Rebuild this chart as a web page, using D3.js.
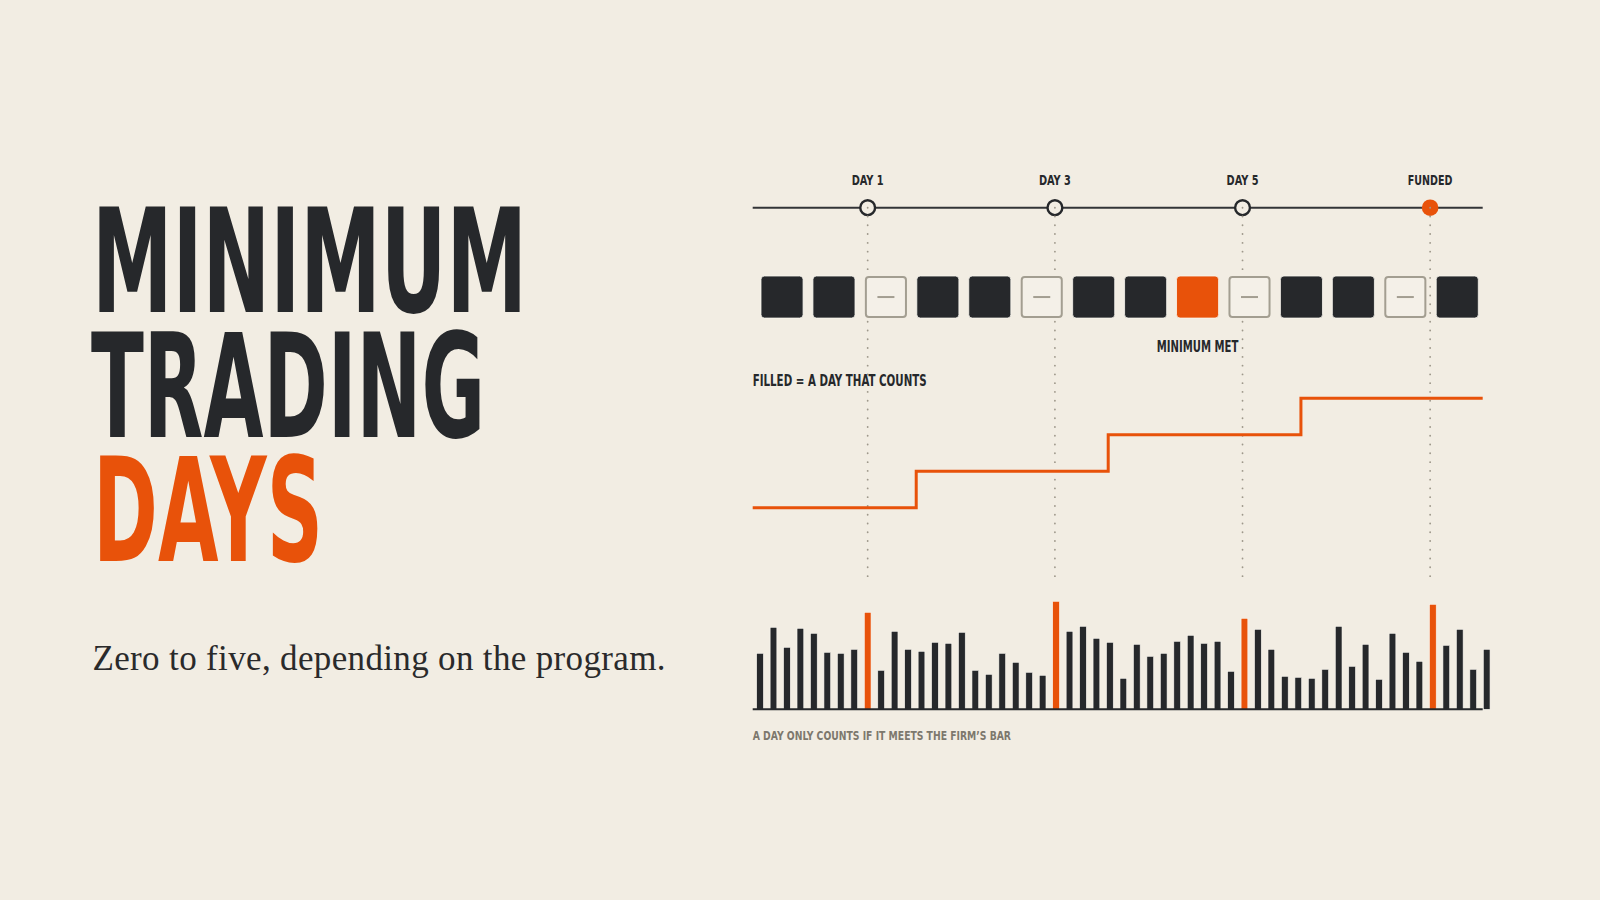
<!DOCTYPE html>
<html>
<head>
<meta charset="utf-8">
<title>Minimum Trading Days</title>
<script src="https://cdn.jsdelivr.net/npm/d3@7"></script>
<style>
	html, body { margin: 0; padding: 0; background: #f2ede3; }
	svg { display: block; }
	.cond { font-family: "DejaVu Sans Condensed", "DejaVu Sans", sans-serif; font-stretch: condensed; font-weight: bold; }
	.serif { font-family: "Liberation Serif", "DejaVu Serif", serif; }
</style>
</head>
<body>
<div id="chart"></div>
<script>
// headline
var titleLines = ["MINIMUM", "TRADING", "DAYS"];
var subtitle = "Zero to five, depending on the program.";

// milestones on the track, position in % of the track width
var markerLabels = ["DAY 1", "DAY 3", "DAY 5", "FUNDED"];
var markerPos = [15.75, 41.4, 67.1, 92.8];

// one square per session
var sessionState = ["filled", "filled", "empty", "filled", "filled", "empty", "filled",
	"filled", "met", "empty", "filled", "filled", "empty", "filled"];

// counted days, step line (breaks in % of track)
var stepBreaks = [0, 22.4, 48.7, 75.1, 100];
var stepLevels = [0, 1, 2, 3, 3];

// daily activity, and the days that met the firm's bar
var barValues = [56, 82, 62, 81, 76, 57, 56, 60, 97, 39,
	78, 60, 58, 67, 66, 77, 39, 35, 56, 47,
	37, 34, 108, 78, 83, 71, 67, 31, 65, 53,
	56, 68, 74, 66, 68, 38, 91, 80, 60, 33,
	32, 31, 40, 83, 43, 65, 30, 76, 57, 48,
	105, 64, 80, 40, 60];
var barHits = [8, 22, 36, 50];

var notes = {
	legend: "FILLED = A DAY THAT COUNTS",
	met: "MINIMUM MET",
	foot: "A DAY ONLY COUNTS IF IT MEETS THE FIRM\u2019S BAR"
};

var C = {
	bg: "#f2ede3",
	ink: "#26282b",
	orange: "#e8520a",
	muted: "#a39e91",
	dots: "#9e988b",
	foot: "#7d786d"
};

var Chart = {
	svg: null,

	init: function (selector, width, height) {
		this.svg = d3.select(selector).append("svg")
			.attr("width", width)
			.attr("height", height);

		this.svg.append("rect")
			.attr("width", width)
			.attr("height", height)
			.attr("fill", C.bg);

		this.drawTitle();
		this.drawTrack();
	},

	drawTitle: function () {
		var g = this.svg.append("g");
		// x, baseline, fitted width for each line
		var fit = [[92, 312.3, 435], [91, 436.7, 394], [93, 561, 230]];
		// set small and stretched up so the tight lines keep clear boxes
		var size = 104, stretch = 145 / 104;

		g.selectAll("text.title")
			.data(titleLines)
			.enter().append("text")
			.attr("class", "title cond")
			.attr("transform", function (d, i) {
				return "translate(" + fit[i][0] + "," + fit[i][1] + ") scale(1," + stretch + ")";
			})
			.attr("textLength", function (d, i) { return fit[i][2]; })
			.attr("lengthAdjust", "spacingAndGlyphs")
			.attr("font-size", size)
			.attr("fill", function (d, i) { return i == 2 ? C.orange : C.ink; })
			.text(function (d) { return d; });

		g.append("text")
			.attr("class", "serif")
			.attr("x", 92.5)
			.attr("y", 670)
			.attr("font-size", 35)
			.attr("textLength", 573)
			.attr("lengthAdjust", "spacing")
			.attr("fill", "#2a2a2b")
			.text(subtitle);
	},

	drawTrack: function () {
		var svg = this.svg;
		var x = d3.scaleLinear().domain([0, 100]).range([752.7, 1482.7]);
		var lineY = 207.7;

		// timeline
		svg.append("line")
			.attr("x1", x(0)).attr("x2", x(100))
			.attr("y1", lineY).attr("y2", lineY)
			.attr("stroke", "#333437")
			.attr("stroke-width", 2);

		svg.selectAll("circle.marker")
			.data(markerPos)
			.enter().append("circle")
			.attr("class", "marker")
			.attr("cx", function (d) { return x(d); })
			.attr("cy", lineY)
			.attr("r", function (d, i) { return i == 3 ? 8.3 : 7.4; })
			.attr("fill", function (d, i) { return i == 3 ? C.orange : C.bg; })
			.attr("stroke", function (d, i) { return i == 3 ? "none" : C.ink; })
			.attr("stroke-width", 2.4);

		svg.selectAll("text.marker")
			.data(markerLabels)
			.enter().append("text")
			.attr("class", "marker cond")
			.attr("x", function (d, i) { return x(markerPos[i]); })
			.attr("y", 185)
			.attr("text-anchor", "middle")
			.attr("font-size", 14.7)
			.attr("textLength", function (d) { return d == "FUNDED" ? 44.6 : 32; })
			.attr("lengthAdjust", "spacingAndGlyphs")
			.attr("fill", C.ink)
			.text(function (d) { return d; });

		// dotted guides
		svg.selectAll("line.guide")
			.data(markerPos)
			.enter().append("line")
			.attr("class", "guide")
			.attr("x1", function (d) { return x(d); })
			.attr("x2", function (d) { return x(d); })
			.attr("y1", lineY)
			.attr("y2", 581)
			.attr("stroke", C.dots)
			.attr("stroke-width", 1.8)
			.attr("stroke-linecap", "round")
			.attr("stroke-dasharray", "0.1 8.67");

		// step line of counted days
		var yStep = d3.scaleLinear().domain([0, 3]).range([507.7, 398.3]);
		var step = d3.line()
			.x(function (d, i) { return x(d); })
			.y(function (d, i) { return yStep(stepLevels[i]); })
			.curve(d3.curveStepAfter);

		svg.append("path")
			.attr("d", step(stepBreaks))
			.attr("fill", "none")
			.attr("stroke", C.orange)
			.attr("stroke-width", 3);

		// sessions
		var sq = d3.scaleBand()
			.domain(d3.range(sessionState.length))
			.range([761, 1478.3])
			.paddingInner(0.19);
		var sqY = 276, bw = sq.bandwidth();

		var cells = svg.selectAll("g.session")
			.data(sessionState)
			.enter().append("g")
			.attr("class", "session")
			.attr("transform", function (d, i) { return "translate(" + sq(i) + "," + sqY + ")"; });

		cells.filter(function (d) { return d != "empty"; })
			.append("rect")
			.attr("width", bw)
			.attr("height", bw)
			.attr("rx", 3.5)
			.attr("fill", function (d) { return d == "met" ? C.orange : C.ink; })
			.attr("stroke", "#faf7f0")
			.attr("stroke-width", 0.8);

		var empty = cells.filter(function (d) { return d == "empty"; });
		empty.append("rect")
			.attr("x", 1).attr("y", 1)
			.attr("width", bw - 2)
			.attr("height", bw - 2)
			.attr("rx", 3)
			.attr("fill", "#f4f0e8")
			.attr("stroke", C.muted)
			.attr("stroke-width", 2);
		empty.append("line")
			.attr("x1", bw / 2 - 8.5).attr("x2", bw / 2 + 8.5)
			.attr("y1", bw / 2).attr("y2", bw / 2)
			.attr("stroke", C.muted)
			.attr("stroke-width", 2);

		var metIndex = sessionState.indexOf("met");
		svg.append("text")
			.attr("class", "cond")
			.attr("x", sq(metIndex) + bw / 2)
			.attr("y", 352.3)
			.attr("text-anchor", "middle")
			.attr("font-size", 15.5)
			.attr("textLength", 81.6)
			.attr("lengthAdjust", "spacingAndGlyphs")
			.attr("fill", C.ink)
			.text(notes.met);

		svg.append("text")
			.attr("class", "cond")
			.attr("x", x(0))
			.attr("y", 385.7)
			.attr("font-size", 15.5)
			.attr("textLength", 174)
			.attr("lengthAdjust", "spacingAndGlyphs")
			.attr("fill", C.ink)
			.text(notes.legend);

		// activity bars
		var xb = d3.scaleBand()
			.domain(d3.range(barValues.length))
			.range([753.3, 1493.4])
			.paddingInner(0.5)
			.paddingOuter(0.25);
		var yb = d3.scaleLinear().domain([0, 110]).range([709.3, 599.3]);

		svg.selectAll("rect.bar")
			.data(barValues)
			.enter().append("rect")
			.attr("class", "bar")
			.attr("x", function (d, i) { return xb(i); })
			.attr("y", function (d) { return yb(d); })
			.attr("width", xb.bandwidth())
			.attr("height", function (d) { return yb(0) - yb(d); })
			.attr("fill", function (d, i) { return barHits.indexOf(i) >= 0 ? C.orange : C.ink; })
			.attr("stroke", "#faf7f0")
			.attr("stroke-width", 0.6);

		svg.append("line")
			.attr("x1", x(0)).attr("x2", x(100))
			.attr("y1", yb(0)).attr("y2", yb(0))
			.attr("stroke", C.ink)
			.attr("stroke-width", 2);

		svg.append("text")
			.attr("class", "cond")
			.attr("x", x(0))
			.attr("y", 740.3)
			.attr("font-size", 11.9)
			.attr("textLength", 258.3)
			.attr("lengthAdjust", "spacingAndGlyphs")
			.attr("fill", C.foot)
			.text(notes.foot);
	}
};

Chart.init("#chart", 1600, 900);
</script>
</body>
</html>
